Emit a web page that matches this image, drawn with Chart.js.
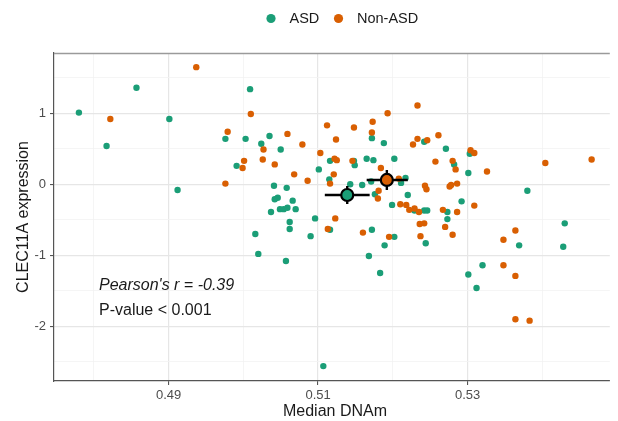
<!DOCTYPE html>
<html>
<head>
<meta charset="utf-8">
<script src="https://cdn.jsdelivr.net/npm/chart.js@4.4.1/dist/chart.umd.min.js"></script>
<style>
html,body{margin:0;padding:0;background:#fff;}
#wrap{width:618px;height:421px;}
</style>
</head>
<body>
<div id="wrap"><canvas id="c" width="618" height="421"></canvas></div>
<script>
const groups = ['ASD', 'Non-ASD'];
const groupColors = ['#1B9E77', '#D95F02'];

const asdX = [0.4780,0.4857,0.4817,0.4901,0.4912,0.4976,0.4991,0.5009,0.5003,0.5024,
  0.5035,0.5050,0.5116,0.5148,0.5149,0.5165,0.5174,0.5202,0.5172,0.5188,
  0.5242,0.5271,0.5303,0.5282,0.5301,0.5101,0.5115,0.5143,0.5159,0.5171,
  0.5176,0.5211,0.5217,0.5220,0.5199,0.5292,0.5380,0.5041,0.5058,0.5046,
  0.5042,0.5066,0.5049,0.5054,0.5059,0.5070,0.5037,0.5062,0.5062,0.5096,
  0.5090,0.5016,0.5020,0.5057,0.5107,0.5116,0.5172,0.5202,0.5189,0.5168,
  0.5183,0.5244,0.5229,0.5242,0.5246,0.5273,0.5273,0.5320,0.5301,0.5312,
  0.5430,0.5428,0.5369];
const asdY = [1.01,1.36,0.54,0.92,-0.08,0.64,0.26,1.34,0.64,0.57,
  0.68,0.49,0.33,0.33,0.27,0.36,0.34,0.36,0.65,0.58,
  0.60,0.50,0.43,0.28,0.16,0.21,0.07,0.00,-0.01,0.04,
  -0.14,0.02,0.09,-0.15,-0.29,-0.24,-0.09,-0.02,-0.05,-0.19,
  -0.21,-0.23,-0.35,-0.35,-0.33,-0.35,-0.39,-0.53,-0.63,-0.48,
  -0.73,-0.70,-0.98,-1.08,-2.56,-0.64,-0.64,-0.74,-0.86,-1.01,
  -1.25,-0.83,-0.37,-0.37,-0.37,-0.39,-0.49,-1.14,-1.27,-1.46,
  -0.55,-0.88,-0.86];

const nonAsdX = [0.4937,0.4822,0.4979,0.4976,0.5010,0.5027,0.5059,0.5079,0.5001,0.4999,
  0.5026,0.5042,0.5112,0.5124,0.5148,0.5173,0.5172,0.5193,0.5233,0.5227,
  0.5233,0.5246,0.5261,0.5304,0.5309,0.5257,0.5280,0.5284,0.5326,0.5404,
  0.5466,0.5103,0.5122,0.5125,0.5146,0.5068,0.5121,0.5116,0.5086,0.5184,
  0.5208,0.5181,0.5180,0.5243,0.5245,0.5276,0.5278,0.5286,0.5210,0.5218,
  0.5222,0.5229,0.5235,0.5267,0.5286,0.5309,0.5123,0.5113,0.5160,0.5195,
  0.5236,0.5242,0.5237,0.5270,0.5280,0.5348,0.5364,0.5348,0.5364,0.5364,
  0.5383];
const nonAsdY = [1.65,0.92,0.74,0.01,0.99,0.49,0.71,0.56,0.33,0.23,
  0.35,0.28,0.83,0.63,0.80,0.88,0.73,1.00,1.11,0.56,
  0.64,0.62,0.69,0.48,0.44,0.32,0.33,0.21,0.18,0.30,
  0.35,0.44,0.36,0.34,0.33,0.14,0.14,0.01,0.05,0.23,
  0.08,-0.09,-0.20,-0.02,-0.07,-0.03,-0.01,0.01,-0.28,-0.29,
  -0.36,-0.34,-0.39,-0.36,-0.39,-0.30,-0.48,-0.63,-0.68,-0.74,
  -0.56,-0.55,-0.73,-0.60,-0.71,-0.78,-0.65,-1.14,-1.29,-1.90,
  -1.92];

// group means with error ranges (ASD, Non-ASD)
const meanX = [0.5139, 0.5192];
const meanY = [-0.151, 0.061];
const xErrLow = [0.5109, 0.5165];
const xErrHigh = [0.5169, 0.5220];
const yErrLow = [-0.277, -0.080];
const yErrHigh = [-0.024, 0.201];

const xMajorTicks = [0.49, 0.51, 0.53];
const xTickLabels = ['0.49', '0.51', '0.53'];
const xMinorTicks = [0.48, 0.50, 0.52, 0.54];
const yMajorTicks = [-2, -1, 0, 1];
const yTickLabels = ['-2', '-1', '0', '1'];
const yMinorTicks = [-2.5, -1.5, -0.5, 0.5, 1.5];

const xTitle = 'Median DNAm';
const yTitle = 'CLEC11A expression';
const statLine1 = "Pearson's r = -0.39";
const statLine2 = 'P-value < 0.001';

const FONT = '"Liberation Sans", Arial, Helvetica, sans-serif';

function pts(xs, ys) { return xs.map((x, i) => ({ x: x, y: ys[i] })); }
function isMajor(list, v) { return list.some(t => Math.abs(t - v) < 1e-9); }
function labelFor(list, labels, v) {
  const i = list.findIndex(t => Math.abs(t - v) < 1e-9);
  return i >= 0 ? labels[i] : '';
}

const datasets = [];
// mean points (top)
for (let g = 0; g < 2; g++) {
  datasets.push({
    type: 'scatter', label: groups[g] + ' mean', order: 0,
    data: [{ x: meanX[g], y: meanY[g] }],
    pointRadius: 6, pointBorderWidth: 2.2, borderColor: '#000', backgroundColor: groupColors[g],
    pointHoverRadius: 6
  });
}
// error bars
for (let g = 0; g < 2; g++) {
  datasets.push({
    type: 'line', label: groups[g] + ' x err', order: 1,
    data: [{ x: xErrLow[g], y: meanY[g] }, { x: xErrHigh[g], y: meanY[g] }],
    borderColor: '#000', borderWidth: 2.4, pointRadius: 0, fill: false, tension: 0
  });
  datasets.push({
    type: 'line', label: groups[g] + ' y err', order: 1,
    data: [{ x: meanX[g], y: yErrLow[g] }, { x: meanX[g], y: yErrHigh[g] }],
    borderColor: '#000', borderWidth: 2.4, pointRadius: 0, fill: false, tension: 0
  });
}
datasets.push({
  type: 'scatter', label: groups[1], order: 2, data: pts(nonAsdX, nonAsdY),
  pointRadius: 3.2, borderWidth: 0, backgroundColor: groupColors[1], borderColor: groupColors[1]
});
datasets.push({
  type: 'scatter', label: groups[0], order: 3, data: pts(asdX, asdY),
  pointRadius: 3.2, borderWidth: 0, backgroundColor: groupColors[0], borderColor: groupColors[0]
});

const decor = {
  id: 'decor',
  beforeDatasetsDraw(chart) {
    const ctx = chart.ctx, a = chart.chartArea;
    ctx.save();
    ctx.strokeStyle = '#9a9a9a';
    ctx.lineWidth = 1.5;
    ctx.beginPath();
    ctx.moveTo(a.left, a.top + 0.5);
    ctx.lineTo(a.right, a.top + 0.5);
    ctx.stroke();
    ctx.restore();
  },
  afterDraw(chart) {
    const ctx = chart.ctx, a = chart.chartArea;
    ctx.save();
    // legend
    ctx.textBaseline = 'middle';
    ctx.textAlign = 'left';
    ctx.font = '14.5px ' + FONT;
    ctx.fillStyle = groupColors[0];
    ctx.beginPath(); ctx.arc(271, 18.5, 4.6, 0, Math.PI * 2); ctx.fill();
    ctx.fillStyle = '#1a1a1a';
    ctx.fillText(groups[0], 289.5, 19);
    ctx.fillStyle = groupColors[1];
    ctx.beginPath(); ctx.arc(338.5, 18.5, 4.6, 0, Math.PI * 2); ctx.fill();
    ctx.fillStyle = '#1a1a1a';
    ctx.fillText(groups[1], 357, 19);
    // axis titles
    ctx.font = '16px ' + FONT;
    ctx.textAlign = 'center';
    ctx.textBaseline = 'alphabetic';
    ctx.fillText(xTitle, 335, 416);
    ctx.save();
    ctx.translate(28, (a.top + a.bottom) / 2);
    ctx.rotate(-Math.PI / 2);
    ctx.fillText(yTitle, 0, 0);
    ctx.restore();
    // stats
    ctx.textAlign = 'left';
    ctx.font = 'italic 16px ' + FONT;
    ctx.fillText(statLine1, 99, 289.5);
    ctx.font = '16px ' + FONT;
    ctx.fillText(statLine2, 99, 314.5);
    ctx.restore();
  }
};

new Chart(document.getElementById('c'), {
  type: 'scatter',
  data: { datasets: datasets },
  plugins: [decor],
  options: {
    responsive: false,
    animation: false,
    devicePixelRatio: 1,
    layout: { padding: { top: 53, right: 6, left: 0, bottom: 0 } },
    plugins: { legend: { display: false }, tooltip: { enabled: false } },
    scales: {
      x: {
        type: 'linear', min: 0.474667, max: 0.54903,
        afterBuildTicks: (s) => { s.ticks = xMinorTicks.concat(xMajorTicks).sort((p, q) => p - q).map(v => ({ value: v })); },
        afterFit: (s) => { s.height = 40; },
        ticks: {
          autoSkip: false, maxRotation: 0, minRotation: 0, padding: 3,
          color: '#4D4D4D', font: { family: FONT, size: 13 },
          callback: (v) => labelFor(xMajorTicks, xTickLabels, v)
        },
        grid: {
          color: (c) => isMajor(xMajorTicks, c.tick.value) ? '#E6E6E6' : '#F2F2F2',
          lineWidth: (c) => isMajor(xMajorTicks, c.tick.value) ? 1.2 : 0.8,
          tickColor: (c) => isMajor(xMajorTicks, c.tick.value) ? '#444' : 'rgba(0,0,0,0)',
          tickLength: 4, tickWidth: 1
        },
        border: { display: true, color: '#555', width: 1.2 }
      },
      y: {
        type: 'linear', min: -2.770, max: 1.849,
        afterBuildTicks: (s) => { s.ticks = yMinorTicks.concat(yMajorTicks).sort((p, q) => p - q).map(v => ({ value: v })); },
        afterFit: (s) => { s.width = 54; },
        ticks: {
          autoSkip: false, padding: 4,
          color: '#4D4D4D', font: { family: FONT, size: 13 },
          callback: (v) => labelFor(yMajorTicks, yTickLabels, v)
        },
        grid: {
          color: (c) => isMajor(yMajorTicks, c.tick.value) ? '#E6E6E6' : '#F2F2F2',
          lineWidth: (c) => isMajor(yMajorTicks, c.tick.value) ? 1.2 : 0.8,
          tickColor: (c) => isMajor(yMajorTicks, c.tick.value) ? '#444' : 'rgba(0,0,0,0)',
          tickLength: 4, tickWidth: 1
        },
        border: { display: true, color: '#555', width: 1.2 }
      }
    }
  }
});
</script>
</body>
</html>
